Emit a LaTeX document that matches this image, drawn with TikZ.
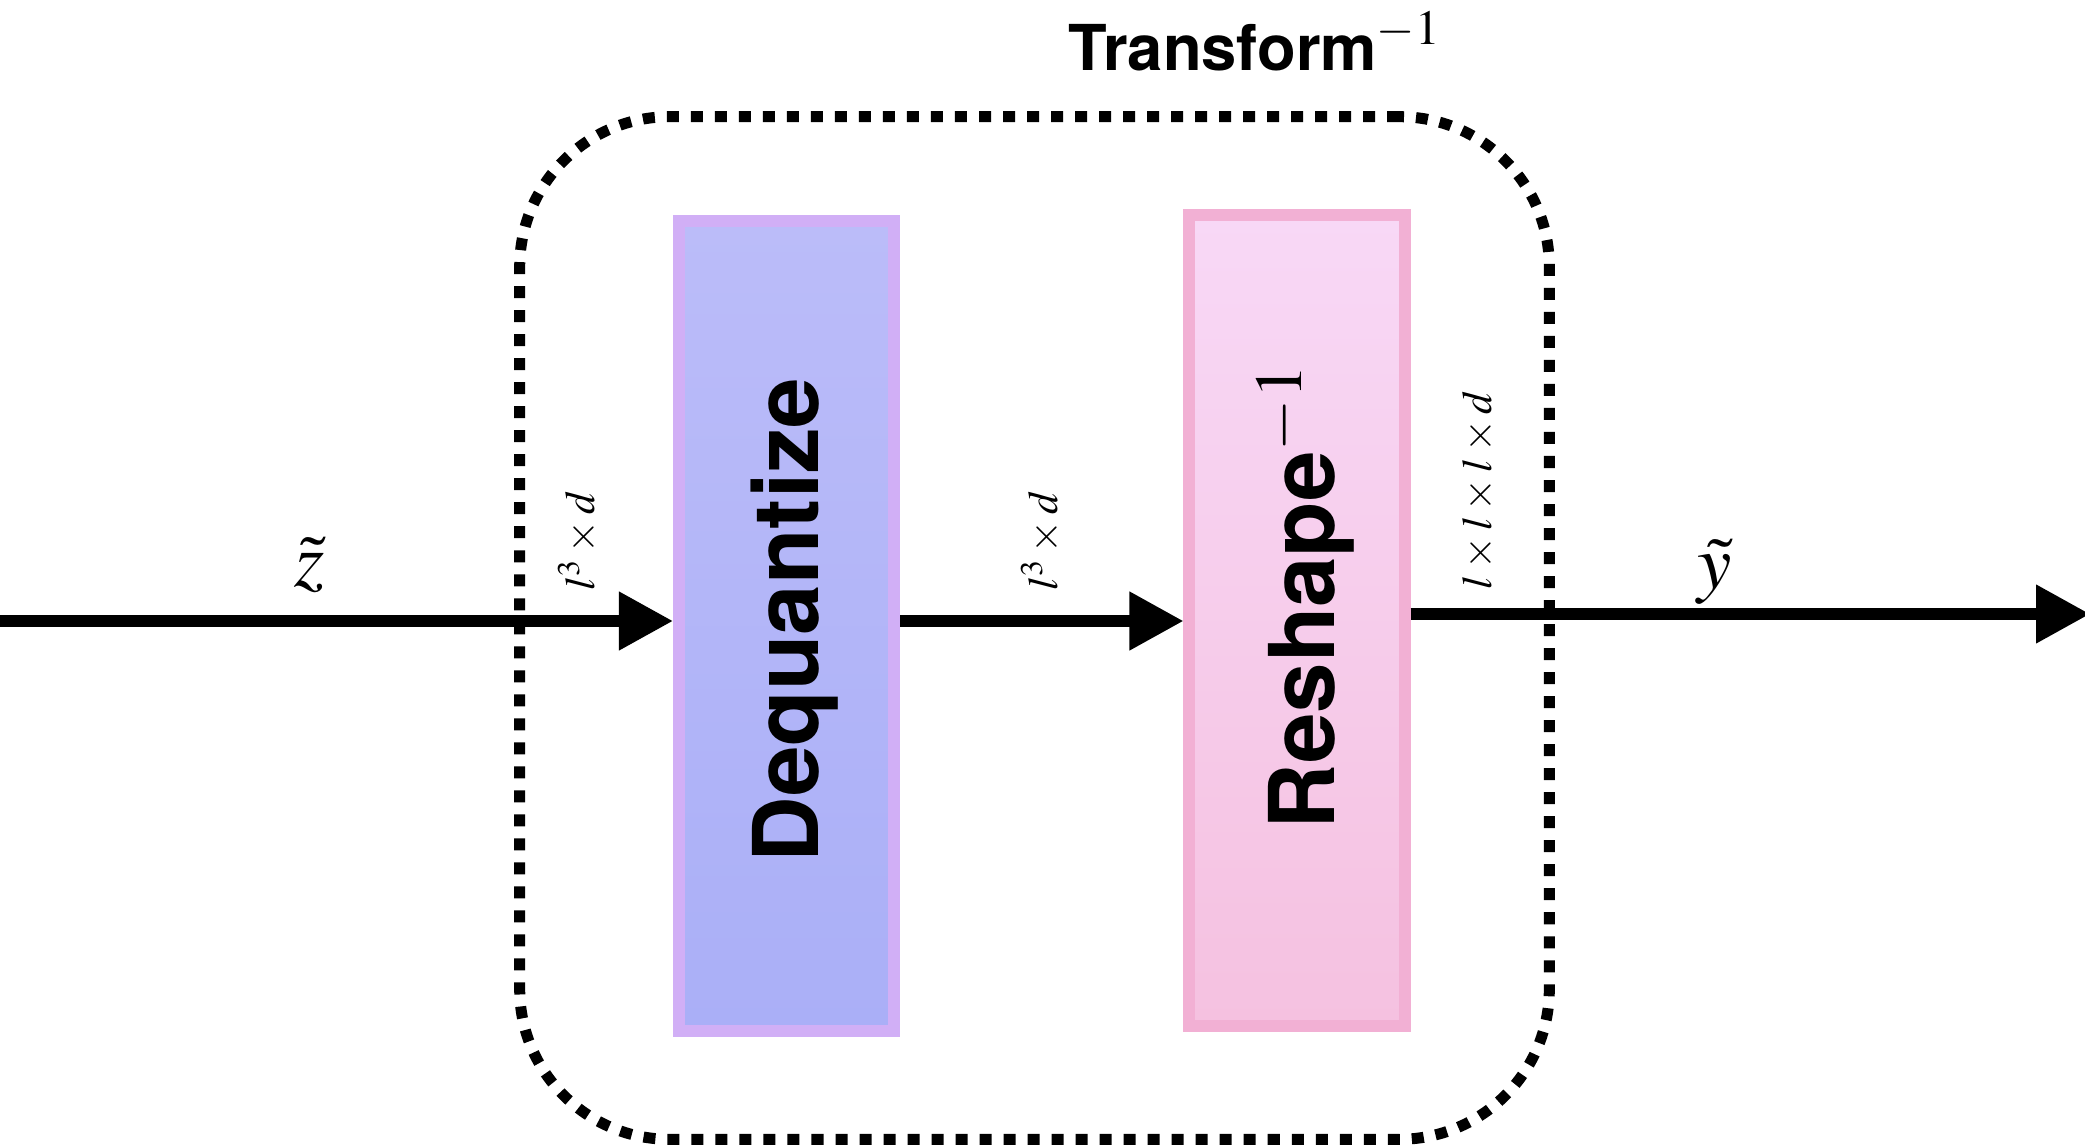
\documentclass[tikz,border=0pt]{standalone}
\usepackage{mathptmx}
\usepackage[no-math]{fontspec}
\setsansfont{TeX Gyre Heros}
\usetikzlibrary{arrows.meta}
\definecolor{deqborder}{RGB}{209,175,246}
\definecolor{deqtop}{RGB}{187,188,249}
\definecolor{deqbot}{RGB}{170,175,247}
\definecolor{resborder}{RGB}{242,176,212}
\definecolor{restop}{RGB}{248,216,246}
\definecolor{resbot}{RGB}{245,193,224}
\begin{document}
\begin{tikzpicture}[x=0.01cm,y=-0.01cm,
  arrowline/.style={line width=0.11cm,-{Triangle[length=0.54cm,width=0.56cm]}},
  procbox/.style={line width=0.12cm,minimum width=2.15cm,minimum height=8.1cm,inner sep=0pt},
  dottedbox/.style={draw,line width=0.11cm,dash pattern=on 0.12cm off 0.12cm,rounded corners=1.5cm,minimum width=10.29cm,minimum height=10.22cm,inner sep=0pt},
  bigtext/.style={font=\fontsize{25.8}{30}\selectfont\sffamily\bfseries,inner sep=0pt,rotate=90,anchor=base west},
  dimlabel/.style={font=\fontsize{12}{14}\selectfont,inner sep=0pt,rotate=90},
  varlabel/.style={font=\fontsize{22}{26}\selectfont,inner sep=0pt}]
\useasboundingbox[fill=white] (0,0) rectangle (2085,1146);
\node[dottedbox] (tf) at (1034.5,628) {};
\node[anchor=base west,inner sep=0pt,font=\fontsize{18}{22}\selectfont\sffamily\bfseries] (tflabel) at (1068,71) {Transform\raisebox{7.5pt}{\fontsize{14}{16}\selectfont$-1$}};
\node[procbox,draw=deqborder,top color=deqtop,bottom color=deqbot] (deq) at (786.5,626) {};
\node[procbox,draw=resborder,top color=restop,bottom color=resbot] (res) at (1297,620.5) {};
\node[bigtext] (deqtext) at (818,863) {Dequantize};
\node[bigtext] (restext) at (1334,830) {Reshape$^{-1}$};
\coordinate (zin) at (0,621);
\coordinate (yout) at (2090,614);
\draw[arrowline] (zin) -- (zin -| deq.west);
\draw[arrowline] (deq.east |- zin) -- (res.west |- zin);
\draw[arrowline] (res.east |- yout) -- (yout);
\node[varlabel] (zlabel) at (310,565) {$\tilde{z}$};
\node[varlabel] (ylabel) at (1715,572) {$\tilde{y}$};
\node[dimlabel] (dim1) at (578,541) {$l^3\times d$};
\node[dimlabel] (dim2) at (1041,541) {$l^3\times d$};
\node[dimlabel] (dim3) at (1479,490) {$l\times l\times l\times d$};
\end{tikzpicture}
\end{document}
